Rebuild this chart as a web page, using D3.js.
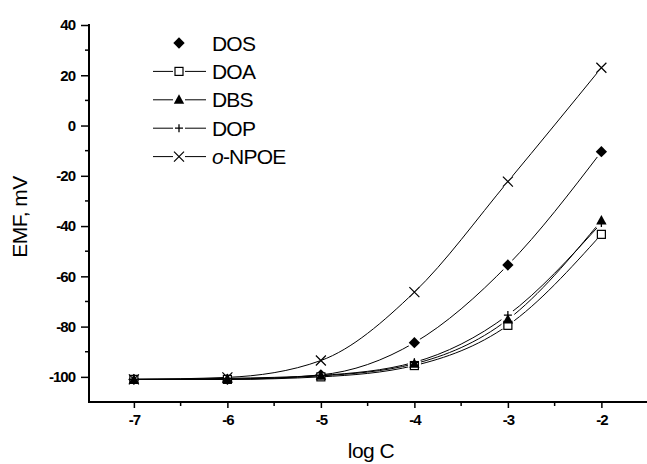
<!DOCTYPE html>
<html>
<head>
<meta charset="utf-8">
<script src="https://cdn.jsdelivr.net/npm/d3@7/dist/d3.min.js"></script>
<style>
html,body{margin:0;padding:0;background:#fff;}
svg{display:block;}
text{font-family:"Liberation Sans",Arial,sans-serif;fill:#000;}
</style>
</head>
<body>
<svg id="c" width="647" height="464"></svg>
<script>
const logC = [-7, -6, -5, -4, -3, -2];
const seriesNames = ["DOS", "DOA", "DBS", "DOP", "o-NPOE"];
const DOS  = [-101, -101, -99.2, -86.4, -55.5, -10.4];
const DOA  = [-101, -101, -100, -95.5, -79.5, -43.3];
const DBS  = [-101, -100.8, -99.6, -94.8, -77.2, -37.8];
const DOP  = [-101, -100.6, -99.4, -94.2, -75.4, -38.8];
const NPOE = [-101, -100.2, -93.5, -66.3, -22.3, 23.0];
const xTicks = [-7, -6, -5, -4, -3, -2];
const yTicks = [-100, -80, -60, -40, -20, 0, 20, 40];

const seriesValues = [DOS, DOA, DBS, DOP, NPOE];
const markerTypes = ["diamond", "square", "triangle", "plus", "cross"];

const svg = d3.select("#c");
const x = d3.scaleLinear().domain([-7.48, -1.48]).range([89, 650]);
const y = d3.scaleLinear().domain([-110, 40]).range([402, 25]);
const fmt = d => String(d).replace("\u2212", "-");

function marker(sel, type) {
  if (type === "diamond") {
    sel.append("path").attr("d", d3.symbol(d3.symbolSquare, 64)()).attr("transform", "rotate(45)").attr("fill", "#000");
  } else if (type === "square") {
    sel.append("rect").attr("x", -4).attr("y", -4).attr("width", 8).attr("height", 8).attr("fill", "#fff").attr("stroke", "#000").attr("stroke-width", 1.2);
  } else if (type === "triangle") {
    sel.append("path").attr("d", "M0,-5.5L5.2,4L-5.2,4Z").attr("fill", "#000");
  } else if (type === "plus") {
    sel.append("path").attr("d", "M-4,0H4M0,-4V4").attr("stroke", "#000").attr("stroke-width", 1.3);
  } else if (type === "cross") {
    sel.append("path").attr("d", "M-5,-5L5,5M-5,5L5,-5").attr("stroke", "#000").attr("stroke-width", 1.2);
  }
}

// axes
const xAxis = svg.append("g").attr("transform", "translate(0,402)");
xAxis.append("line").attr("x1", 88).attr("x2", 650).attr("stroke", "#000").attr("stroke-width", 2);
xAxis.call(g => {
  const ax = d3.axisBottom(x).tickValues(xTicks).tickSize(6).tickSizeOuter(0).tickPadding(6).tickFormat(fmt);
  g.append("g").call(ax).call(s => s.select(".domain").remove())
   .selectAll("text").attr("font-size", 15).attr("font-weight", "bold").attr("letter-spacing", -1).attr("fill", "#000");
  g.selectAll(".tick line").attr("stroke-width", 1.5);
  const minor = d3.range(-6.5, -1.4, 1);
  g.append("g").selectAll("line").data(minor).join("line")
   .attr("x1", d => x(d)).attr("x2", d => x(d)).attr("y1", 0).attr("y2", 4).attr("stroke", "#000").attr("stroke-width", 1.5);
});

const yAxis = svg.append("g").attr("transform", "translate(89,0)");
yAxis.append("line").attr("y1", 24).attr("y2", 403).attr("stroke", "#000").attr("stroke-width", 2);
yAxis.call(g => {
  const ax = d3.axisLeft(y).tickValues(yTicks).tickSize(8).tickSizeOuter(0).tickPadding(6).tickFormat(fmt);
  g.append("g").call(ax).call(s => s.select(".domain").remove())
   .selectAll("text").attr("font-size", 15).attr("font-weight", "bold").attr("letter-spacing", -1).attr("fill", "#000");
  g.selectAll(".tick line").attr("stroke-width", 1.5);
  const minor = d3.range(-90, 40, 20);
  g.append("g").selectAll("line").data(minor).join("line")
   .attr("y1", d => y(d)).attr("y2", d => y(d)).attr("x1", 0).attr("x2", -4).attr("stroke", "#000").attr("stroke-width", 1.5);
});

// axis titles
svg.append("text").attr("x", 371).attr("y", 458).attr("text-anchor", "middle")
  .attr("font-size", 21).attr("letter-spacing", -0.5).text("log C");
svg.append("text").attr("transform", "translate(27,217) rotate(-90)").attr("text-anchor", "middle")
  .attr("font-size", 21).attr("letter-spacing", -0.5).text("EMF, mV");

// lines
const line = d3.line().x((d, i) => x(logC[i])).y(d => y(d)).curve(d3.curveMonotoneX);
svg.append("g").selectAll("path").data(seriesValues).join("path")
  .attr("d", d => line(d)).attr("fill", "none").attr("stroke", "#000").attr("stroke-width", 1);

// gaps around markers
const pts = [];
seriesValues.forEach((vals, s) => vals.forEach((v, i) => pts.push({s, x: logC[i], v})));
svg.append("g").selectAll("circle").data(pts.filter(p => p.x >= -4)).join("circle")
  .attr("cx", p => x(p.x)).attr("cy", p => y(p.v)).attr("r", 6.5).attr("fill", "#fff");

// markers
const mg = svg.append("g");
pts.forEach(p => {
  const g = mg.append("g").attr("transform", `translate(${x(p.x)},${y(p.v)})`);
  marker(g, markerTypes[p.s]);
});

// legend
const leg = svg.append("g");
seriesNames.forEach((name, i) => {
  const yy = 43 + i * 28.4;
  const g = leg.append("g").attr("transform", `translate(0,${yy})`);
  if (i > 0) {
    g.append("line").attr("x1", 153).attr("x2", 173).attr("stroke", "#000").attr("stroke-width", 1);
    g.append("line").attr("x1", 185).attr("x2", 206).attr("stroke", "#000").attr("stroke-width", 1);
  }
  const m = g.append("g").attr("transform", "translate(179,0)");
  marker(m, markerTypes[i]);
  const t = g.append("text").attr("x", 212).attr("y", 7.5).attr("font-size", 21).attr("letter-spacing", -0.8);
  if (name.startsWith("o-")) {
    t.append("tspan").attr("font-style", "italic").text("o");
    t.append("tspan").text(name.slice(1));
  } else {
    t.text(name);
  }
});
</script>
</body>
</html>
